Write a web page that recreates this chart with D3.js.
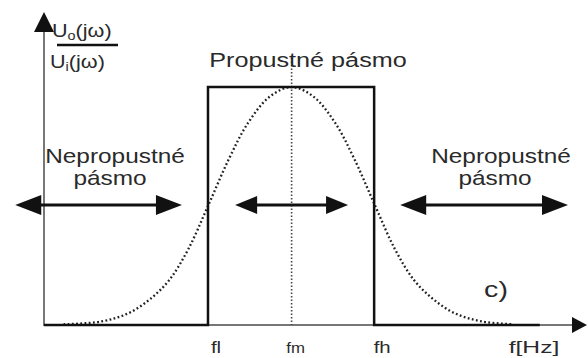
<!DOCTYPE html>
<html>
<head>
<meta charset="utf-8">
<script src="https://cdn.jsdelivr.net/npm/d3@7"></script>
<style>
  body { margin: 0; background: #fff; }
  svg { display: block; }
  text { font-family: "Liberation Sans", Arial, sans-serif; fill: #2a2a2a; }
</style>
</head>
<body>
<div id="chart"></div>
<script>
// frequency marks (x units, 0..100 across the axis)
var freqMarks = [
    {name: "fl", f: 30.2, size: 17},
    {name: "fm", f: 45.6, size: 14},
    {name: "fh", f: 60.8, size: 17}
];
// ideal band-pass response (rectangle) - [f, gain]
var idealResponse = [[0, 0], [30.2, 0], [30.2, 1], [60.8, 1], [60.8, 0], [91.3, 0]];
var realF    = [3.6, 10.6, 15.6, 19.6, 23.1, 26.6, 30.2, 34.1, 37.6, 41.6, 45.6, 49.6, 53.6, 57.1, 61.0, 64.6, 68.1, 71.6, 75.6, 80.6, 86.5];
var realGain = [0.003, 0.015, 0.05, 0.11, 0.19, 0.32, 0.50, 0.70, 0.85, 0.96, 1.0, 0.96, 0.85, 0.70, 0.50, 0.32, 0.19, 0.11, 0.05, 0.015, 0.003];
// double arrows: [from, to] in f units, at gain level
var bandArrows = [
    {from: -5.3, to: 25.4, head: 26, half: 10},
    {from: 35.2, to: 56.0, head: 22, half: 9},
    {from: 65.6, to: 96.5, head: 26, half: 10}
];
var arrowGain = 0.504;

var width = 588, height = 358;
var svg = d3.select("#chart").append("svg")
    .attr("width", width)
    .attr("height", height);

var x = d3.scaleLinear().domain([0, 100]).range([44, 587]);
var y = d3.scaleLinear().domain([0, 1]).range([325, 87]);

// stretched text helper (the picture is wider than tall fonts)
function label(txt, px, py, size, sx) {
    return svg.append("text")
        .attr("text-anchor", "middle")
        .attr("font-size", size)
        .attr("transform", "translate(" + px + "," + py + ") scale(" + (sx || 1.2) + ",1)")
        .text(txt);
}

// axes
svg.append("line")
    .attr("x1", x(0)).attr("y1", y(0) + 1)
    .attr("x2", x(0)).attr("y2", y(1.3))
    .attr("stroke", "#777").attr("stroke-width", 2);
svg.append("path")
    .attr("d", "M" + x(0) + "," + y(1.315) + "l-10,20h20z")
    .attr("fill", "#111");

svg.append("line")
    .attr("x1", x(0) - 1).attr("y1", y(0))
    .attr("x2", x(98)).attr("y2", y(0))
    .attr("stroke", "#777").attr("stroke-width", 2);
svg.append("path")
    .attr("d", "M" + x(100) + "," + y(0) + "l-15,-8v16z")
    .attr("fill", "#111");

// fm dotted vertical
var fm = freqMarks[1].f;
svg.append("line")
    .attr("x1", x(fm)).attr("y1", 58)
    .attr("x2", x(fm)).attr("y2", y(0))
    .attr("stroke", "#444").attr("stroke-width", 1.6)
    .attr("stroke-dasharray", "1.5,2");

// real response curve
var realData = realF.map(function(f, i) { return {f: f, g: realGain[i]}; });
var curve = d3.line()
    .x(function(d) { return x(d.f); })
    .y(function(d) { return y(d.g); })
    .curve(d3.curveCatmullRom);
svg.append("path").datum(realData)
    .attr("d", curve)
    .attr("fill", "none")
    .attr("stroke", "#222").attr("stroke-width", 2.3)
    .attr("stroke-dasharray", "1.8,2.4");

// ideal response
var rectLine = d3.line()
    .x(function(d) { return x(d[0]); })
    .y(function(d) { return y(d[1]); });
svg.append("path").datum(idealResponse)
    .attr("d", rectLine)
    .attr("fill", "none")
    .attr("stroke", "#111").attr("stroke-width", 2.5)
    .attr("stroke-linejoin", "miter");

// double arrows
bandArrows.forEach(function(a) {
    var x1 = x(a.from), x2 = x(a.to), yy = y(arrowGain);
    svg.append("line")
        .attr("x1", x1 + a.head - 2).attr("y1", yy)
        .attr("x2", x2 - a.head + 2).attr("y2", yy)
        .attr("stroke", "#111").attr("stroke-width", 3);
    svg.append("path")
        .attr("d", "M" + x1 + "," + yy + "l" + a.head + "," + (-a.half) + "v" + (2 * a.half) + "z")
        .attr("fill", "#111");
    svg.append("path")
        .attr("d", "M" + x2 + "," + yy + "l" + (-a.head) + "," + (-a.half) + "v" + (2 * a.half) + "z")
        .attr("fill", "#111");
});

// frequency labels
freqMarks.forEach(function(m) {
    label(m.name, x(m.f) + (m.name === "fm" ? 4 : 8), 353, m.size, 1.2);
});
label("f[Hz]", 534, 353, 17, 1.45);

// band texts
label("Propustné pásmo", 308, 67, 21, 1.2);
label("Nepropustné", 115, 163, 20, 1.22);
label("pásmo", 110, 185, 20, 1.22);
label("Nepropustné", 501, 163, 20, 1.22);
label("pásmo", 495, 185, 20, 1.22);
label("c)", 496, 297, 22, 1.3);

// y label as fraction
var yl = svg.append("g");
var t1 = yl.append("text").attr("font-size", 18)
    .attr("transform", "translate(52,37) scale(1.2,1)");
t1.append("tspan").text("U");
t1.append("tspan").attr("font-size", 12).attr("dy", 3).text("o");
t1.append("tspan").attr("dy", -3).text("(jω)");
yl.append("line")
    .attr("x1", 57).attr("x2", 118)
    .attr("y1", 45).attr("y2", 45)
    .attr("stroke", "#111").attr("stroke-width", 2.5);
var t2 = yl.append("text").attr("font-size", 18)
    .attr("transform", "translate(50,68) scale(1.2,1)");
t2.append("tspan").text("U");
t2.append("tspan").attr("font-size", 12).attr("dy", 3).text("i");
t2.append("tspan").attr("dy", -3).text("(jω)");
</script>
</body>
</html>
